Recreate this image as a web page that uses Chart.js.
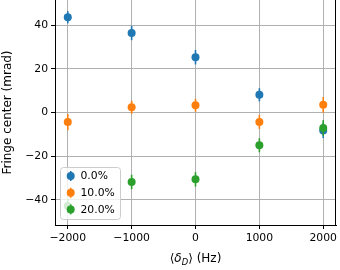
<!DOCTYPE html>
<html>
<head>
<meta charset="utf-8">
<script src="https://cdn.jsdelivr.net/npm/chart.js@4.4.0/dist/chart.umd.min.js"></script>
<style>
  html, body { margin: 0; padding: 0; background: #fff; }
  #wrap { width: 340px; height: 270px; }
</style>
</head>
<body>
<div id="wrap"><canvas id="chart" width="340" height="270"></canvas></div>
<script>
// Detuning values (Hz) and series data
const detuning = [-2000, -1000, 0, 1000, 2000];
const seriesLabels = ['0.0%', '10.0%', '20.0%'];
const centers0 = [43.6, 36.4, 25.3, 8.1, -8.2];
const errors0 = [2.8, 3.3, 3.3, 3.0, 3.5];
const centers10 = [-4.4, 2.4, 3.3, -4.3, 3.5];
const errors10 = [3.7, 3.0, 3.0, 3.2, 3.6];
const centers20 = [-42.8, -31.8, -30.6, -15.0, -7.1];
const errors20 = [3.2, 3.3, 3.3, 3.2, 3.6];
const xTicks = [-2000, -1000, 0, 1000, 2000];
const yTicks = [-40, -20, 0, 20, 40];

const colors = ['#1f77b4', '#ff7f0e', '#2ca02c'];
const FONT = 'DejaVu Sans';
const FONT_SIZE = 10.8;
const TITLE_SIZE = 12;

function toPoints(ys) {
  return detuning.map((x, i) => ({ x: x, y: ys[i] }));
}

const allErrors = [errors0, errors10, errors20];

// Error bars: drawn just before each dataset's markers
const errorBarPlugin = {
  id: 'errorBars',
  beforeDatasetDraw(chart, args) {
    const { ctx, scales } = chart;
    const ds = chart.data.datasets[args.index];
    const errs = allErrors[args.index];
    ctx.save();
    ctx.strokeStyle = ds.borderColor;
    ctx.lineWidth = 1.6;
    ds.data.forEach((p, i) => {
      const x = scales.x.getPixelForValue(p.x);
      const y1 = scales.y.getPixelForValue(p.y - errs[i]);
      const y2 = scales.y.getPixelForValue(p.y + errs[i]);
      ctx.beginPath();
      ctx.moveTo(x, y1);
      ctx.lineTo(x, y2);
      ctx.stroke();
    });
    ctx.restore();
  }
};

// Right spine, x title with subscript, legend box
const decorPlugin = {
  id: 'decor',
  afterDraw(chart) {
    const { ctx, chartArea } = chart;
    ctx.save();

    // right spine
    ctx.strokeStyle = '#000';
    ctx.lineWidth = 1;
    ctx.beginPath();
    ctx.moveTo(Math.round(chartArea.right) - 0.5, chartArea.top);
    ctx.lineTo(Math.round(chartArea.right) - 0.5, chartArea.bottom + 0.5);
    ctx.stroke();

    // x axis title: <δ_D> (Hz)
    const cx = (chartArea.left + chartArea.right) / 2;
    const base = 262;
    const parts = [
      { t: '\u27e8', f: `${TITLE_SIZE}px "${FONT}"`, dy: 0 },
      { t: '\u03b4', f: `italic ${TITLE_SIZE}px "${FONT}"`, dy: 0 },
      { t: 'D', f: `italic ${TITLE_SIZE * 0.7}px "${FONT}"`, dy: 2.5 },
      { t: '\u27e9 (Hz)', f: `${TITLE_SIZE}px "${FONT}"`, dy: 0 }
    ];
    let total = 0;
    parts.forEach(p => { ctx.font = p.f; p.w = ctx.measureText(p.t).width; total += p.w; });
    let px = cx - total / 2;
    ctx.fillStyle = '#000';
    ctx.textBaseline = 'alphabetic';
    ctx.textAlign = 'left';
    parts.forEach(p => {
      ctx.font = p.f;
      ctx.fillText(p.t, px, base + p.dy);
      px += p.w;
    });

    // legend
    const lx = 60.5, ly = 167.5, lw = 60, lh = 52;
    ctx.fillStyle = 'rgba(255,255,255,0.8)';
    ctx.strokeStyle = '#cccccc';
    ctx.lineWidth = 1;
    ctx.beginPath();
    ctx.roundRect(lx, ly, lw, lh, 3);
    ctx.fill();
    ctx.stroke();

    ctx.font = `${FONT_SIZE}px "${FONT}"`;
    ctx.textBaseline = 'middle';
    chart.data.datasets.forEach((ds, i) => {
      const my = 176 + i * 16.7;
      const mx = 70.7;
      ctx.strokeStyle = ds.borderColor;
      ctx.lineWidth = 1.6;
      ctx.beginPath();
      ctx.moveTo(mx, my - 5);
      ctx.lineTo(mx, my + 5);
      ctx.stroke();
      ctx.fillStyle = ds.backgroundColor;
      ctx.beginPath();
      ctx.arc(mx, my, 4, 0, Math.PI * 2);
      ctx.fill();
      ctx.fillStyle = '#000';
      ctx.fillText(ds.label, 80.5, my + 0.5);
    });

    ctx.restore();
  }
};

const tickLabel = v => String(v).replace('-', '\u2212');

new Chart(document.getElementById('chart'), {
  type: 'scatter',
  data: {
    datasets: [
      { label: seriesLabels[0], data: toPoints(centers0), order: 3 },
      { label: seriesLabels[1], data: toPoints(centers10), order: 2 },
      { label: seriesLabels[2], data: toPoints(centers20), order: 1 }
    ].map((ds, i) => Object.assign(ds, {
      backgroundColor: colors[i],
      borderColor: colors[i],
      pointRadius: 4,
      pointBorderWidth: 0,
      pointHoverRadius: 4
    }))
  },
  options: {
    responsive: false,
    animation: false,
    devicePixelRatio: 1,
    layout: { autoPadding: false, padding: { left: 0, right: 4, top: 0, bottom: 0 } },
    plugins: {
      legend: { display: false },
      tooltip: { enabled: false }
    },
    scales: {
      x: {
        type: 'linear',
        min: -2200,
        max: 2200,
        afterFit: s => { s.height = 45; s.paddingLeft = 0; s.paddingRight = 0; },
        afterBuildTicks: s => { s.ticks = xTicks.map(v => ({ value: v })); },
        ticks: {
          callback: tickLabel,
          color: '#000',
          font: { family: FONT, size: FONT_SIZE },
          padding: 3,
          maxRotation: 0
        },
        grid: {
          color: '#b0b0b0',
          lineWidth: 1,
          tickLength: 4,
          tickColor: '#000',
          drawTicks: true
        },
        border: { display: true, color: '#000', width: 1 }
      },
      y: {
        type: 'linear',
        min: -51.5,
        max: 51.5,
        afterFit: s => { s.width = 55; s.paddingTop = 0; s.paddingBottom = 0; },
        afterBuildTicks: s => { s.ticks = yTicks.map(v => ({ value: v })); },
        ticks: {
          callback: tickLabel,
          color: '#000',
          font: { family: FONT, size: FONT_SIZE },
          padding: 3
        },
        grid: {
          color: '#b0b0b0',
          lineWidth: 1,
          tickLength: 4,
          tickColor: '#000',
          drawTicks: true
        },
        border: { display: true, color: '#000', width: 1 },
        title: {
          display: true,
          text: 'Fringe center (mrad)',
          color: '#000',
          font: { family: FONT, size: TITLE_SIZE },
          padding: { top: 0.5, bottom: 0 }
        }
      }
    }
  },
  plugins: [errorBarPlugin, decorPlugin]
});
</script>
</body>
</html>
